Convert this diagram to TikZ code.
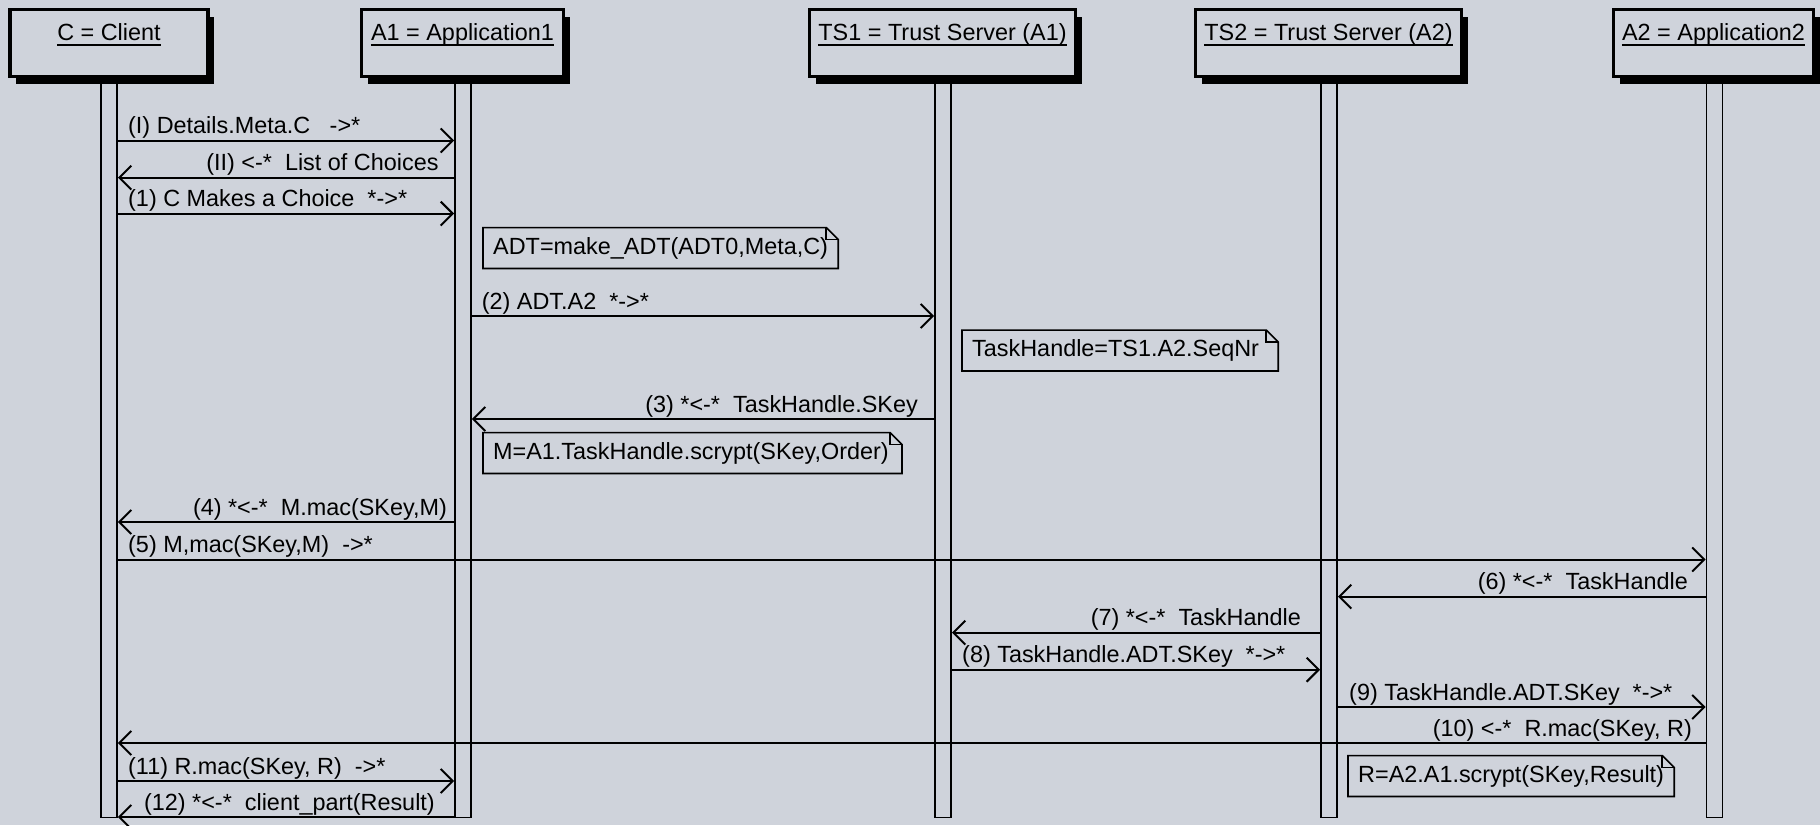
\documentclass[tikz,border=0pt]{standalone}
\usepackage{fontspec}
\setmainfont{Liberation Sans}
\usetikzlibrary{arrows.meta,shadows}
\definecolor{bg}{RGB}{207,211,219}
\newcommand{\drawnote}[1]{%
  \draw[noteline] (#1.south west) -- (#1.north west) -- ([xshift=-12pt]#1.north east)
    -- ([yshift=-12pt]#1.north east) -- (#1.south east) -- cycle;
  \draw[noteline] ([xshift=-12pt]#1.north east) -- ([xshift=-12pt,yshift=-12pt]#1.north east)
    -- ([yshift=-12pt]#1.north east);}
\begin{document}
\begin{tikzpicture}[x=1pt,y=-1pt,
  font=\fontsize{23.4}{28}\selectfont,
  head/.style={draw,line width=3.5pt,fill=bg,minimum height=67pt,inner sep=0pt,
    drop shadow={shadow xshift=6pt,shadow yshift=-7pt,fill=black,opacity=1}},
  ttl/.style={inner sep=0pt,anchor=base},
  uline/.style={line width=1.6pt},
  life/.style={draw,line width=1.8pt,fill=bg,minimum width=16pt,minimum height=734pt,inner sep=0pt},
  msg/.style={line width=2pt,-{Straight Barb[length=12pt,width=24pt,line width=2pt]}},
  lbl/.style={inner sep=0pt},
  notebox/.style={inner xsep=10pt,inner ysep=0pt,minimum height=40.5pt,anchor=west},
  noteline/.style={line width=1.6pt}]
\useasboundingbox (0,0) rectangle (1820,825);
\fill[bg] (0,0) rectangle (1820,825);

% heads
\node[head,minimum width=198pt] (hC) at (109,43) {};
\node[head,minimum width=202pt] (hA1) at (462.5,43) {};
\node[head,minimum width=266pt] (hTSa) at (942.5,43) {};
\node[head,minimum width=266pt] (hTSb) at (1328.5,43) {};
\node[head,minimum width=200pt] (hA2) at (1713.5,43) {};

\node[ttl] (tC) at (109,40) {C = Client};
\node[ttl] (tA1) at (462.5,40) {A1 = Application1};
\node[ttl] (tTSa) at (942.5,40) {TS1 = Trust Server (A1)};
\node[ttl] (tTSb) at (1328.5,40) {TS2 = Trust Server (A2)};
\node[ttl] (tA2) at (1713.5,40) {A2 = Application2};
\foreach \t in {tC,tA1,tTSa,tTSb,tA2}
  \draw[uline] ([yshift=-5pt]\t.base west) -- ([yshift=-5pt]\t.base east);

% lifelines
\node[life] (lC) at (109,450.5) {};
\node[life] (lA1) at (463,450.5) {};
\node[life] (lTSa) at (943,450.5) {};
\node[life] (lTSb) at (1329,450.5) {};
\node[life] (lA2) at (1714.5,450.5) {};

% messages
\draw[msg] (lC.east |- 0,140.5) -- (lA1.west |- 0,140.5);
\node[lbl,anchor=base west] (mI) at (128,133.5) {(I) Details.Meta.C~~~->*};

\draw[msg] (lA1.west |- 0,177.6) -- (lC.east |- 0,177.6);
\node[lbl,anchor=base east] (mII) at (438.7,170.6) {(II) <-*~~List of Choices};

\draw[msg] (lC.east |- 0,213.6) -- (lA1.west |- 0,213.6);
\node[lbl,anchor=base west] (m1) at (128,206.6) {(1) C Makes a Choice~~*->*};

\node[notebox] (nADT) at (483,248) {ADT=make\_ADT(ADT0,Meta,C)};
\drawnote{nADT}

\draw[msg] (lA1.east |- 0,316) -- (lTSa.west |- 0,316);
\node[lbl,anchor=base west] (m2) at (481.7,309) {(2) ADT.A2~~*->*};

\node[notebox] (nTH) at (962,350.5) {TaskHandle=TS1.A2.SeqNr\hspace*{9pt}};
\drawnote{nTH}

\draw[msg] (lTSa.west |- 0,419) -- (lA1.east |- 0,419);
\node[lbl,anchor=base east] (m3) at (918,412) {(3) *<-*~~TaskHandle.SKey};

\node[notebox] (nM) at (483,453) {M=A1.TaskHandle.scrypt(SKey,Order)\hspace*{3pt}};
\drawnote{nM}

\draw[msg] (lA1.west |- 0,522) -- (lC.east |- 0,522);
\node[lbl,anchor=base east] (m4) at (447,515) {(4) *<-*~~M.mac(SKey,M)};

\draw[msg] (lC.east |- 0,559.5) -- (lA2.west |- 0,559.5);
\node[lbl,anchor=base west] (m5) at (128,552.5) {(5) M,mac(SKey,M)~~->*};

\draw[msg] (lA2.west |- 0,596.6) -- (lTSb.east |- 0,596.6);
\node[lbl,anchor=base east] (m6) at (1688,589.6) {(6) *<-*~~TaskHandle};

\draw[msg] (lTSb.west |- 0,632.6) -- (lTSa.east |- 0,632.6);
\node[lbl,anchor=base east] (m7) at (1301,625.6) {(7) *<-*~~TaskHandle};

\draw[msg] (lTSa.east |- 0,669.7) -- (lTSb.west |- 0,669.7);
\node[lbl,anchor=base west] (m8) at (962,662.7) {(8) TaskHandle.ADT.SKey~~*->*};

\draw[msg] (lTSb.east |- 0,707) -- (lA2.west |- 0,707);
\node[lbl,anchor=base west] (m9) at (1349,700) {(9) TaskHandle.ADT.SKey~~*->*};

\draw[msg] (lA2.west |- 0,743) -- (lC.east |- 0,743);
\node[lbl,anchor=base east] (m10) at (1692,736) {(10) <-*~~R.mac(SKey, R)};

\node[notebox] (nR) at (1348,776) {R=A2.A1.scrypt(SKey,Result)};
\drawnote{nR}

\draw[msg] (lC.east |- 0,781) -- (lA1.west |- 0,781);
\node[lbl,anchor=base west] (m11) at (128,774) {(11) R.mac(SKey, R)~~->*};

\draw[msg] (lA1.west |- 0,817) -- (lC.east |- 0,817);
\node[lbl,anchor=base east] (m12) at (435,810) {(12) *<-*~~client\_part(Result)};
\end{tikzpicture}
\end{document}
